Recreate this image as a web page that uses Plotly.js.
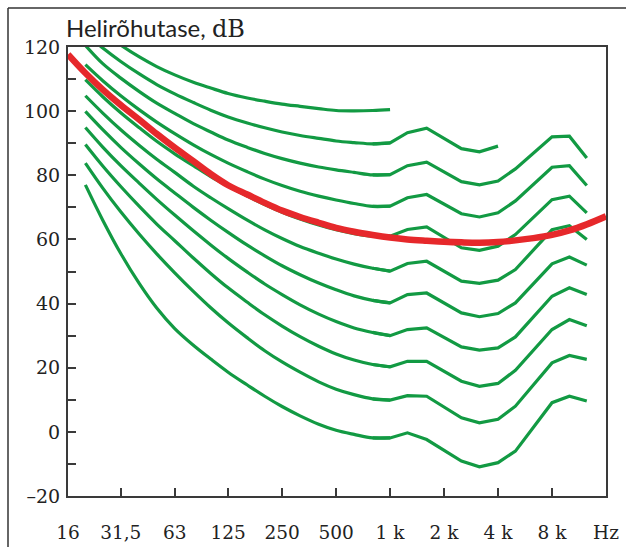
<!DOCTYPE html>
<html>
<head>
<meta charset="utf-8">
<script src="https://cdn.plot.ly/plotly-3.0.1.min.js"></script>
<style>html,body{margin:0;padding:0;background:#fff;}#chart{width:626px;height:547px;}</style>
</head>
<body>
<div id="chart"></div>
<script>
// Frequencies (Hz): smooth low part and polyline high part
const freqLow  = [20, 25, 31.5, 40, 50, 63, 80, 100, 125, 160, 200, 250, 315, 400, 500, 630, 800, 1000];
const freqHigh = [800, 1000, 1250, 1600, 2500, 3150, 4000, 5000, 8000, 10000, 12500];

// Equal-loudness contours (dB), low part
const c0Low   = [77, 66.0, 55.6, 46.2, 38.6, 32.2, 27.0, 22.7, 18.6, 14.6, 11.1, 7.9, 5.0, 2.4, 0.5, -0.8, -1.9, -1.9];
const c10Low  = [83.8, 76.0, 68.6, 61.6, 55.5, 49.6, 43.8, 38.7, 34.0, 29.3, 25.3, 21.8, 18.6, 15.6, 13.3, 11.6, 10.3, 9.9];
const c20Low  = [89.6, 82.9, 76.5, 70.3, 64.8, 59.6, 54.2, 49.4, 44.9, 40.4, 36.5, 33.0, 29.7, 26.7, 24.3, 22.4, 21.0, 20.3];
const c30Low  = [94.9, 88.8, 83.0, 77.5, 72.5, 67.6, 62.7, 58.3, 54.1, 49.8, 46.1, 42.8, 39.6, 36.7, 34.4, 32.4, 31.0, 30.0];
const c40Low  = [99.9, 94.2, 88.7, 83.5, 78.9, 74.5, 70.0, 66.0, 62.2, 58.2, 54.9, 51.8, 49.0, 46.4, 44.3, 42.4, 41.0, 40.2];
const c50Low  = [104.8, 99.4, 94.2, 89.3, 85.0, 80.9, 76.6, 73.0, 69.6, 66.0, 63.0, 60.3, 57.8, 55.7, 53.9, 52.3, 51.0, 50.1];
const c60Low  = [109.8, 104.5, 99.5, 94.8, 90.6, 86.7, 83.0, 79.6, 76.6, 73.5, 70.9, 68.5, 66.4, 64.5, 63.0, 61.8, 61.0, 61.0];
const c70Low  = [114.5, 109.5, 104.8, 100.4, 96.6, 93.0, 89.5, 86.5, 83.8, 81.1, 78.8, 76.8, 75.0, 73.5, 72.3, 71.2, 70.3, 70.4];
const c80Low  = [120.5, 114.8, 110.3, 106.1, 102.5, 99.3, 96.1, 93.5, 91.0, 88.7, 86.8, 85.2, 83.8, 82.6, 81.7, 80.9, 80.1, 80.2];
const c90Low  = [124.2, 119.7, 115.5, 111.6, 108.3, 105.4, 102.7, 100.3, 98.2, 96.3, 94.8, 93.5, 92.4, 91.5, 90.7, 90.2, 89.8, 90.1];
const c100Low = [129, 124.7, 120.6, 116.9, 113.9, 111.3, 109.0, 107.2, 105.5, 104.1, 103.1, 102.2, 101.5, 100.8, 100.2, 100.1, 100.2, 100.5];

// Equal-loudness contours (dB), high part
const c0High  = [-1.9, -1.9, -0.3, -2.4, -9.1, -10.9, -9.6, -6.0, 9.1, 11.1, 9.6];
const c10High = [10.3, 9.9, 11.3, 11.1, 4.4, 2.8, 3.9, 8.0, 21.5, 23.8, 22.6];
const c20High = [21.0, 20.3, 22.0, 22.0, 15.8, 14.2, 15.1, 19.2, 31.9, 35.0, 33.1];
const c30High = [31.0, 30.0, 31.9, 32.4, 26.5, 25.5, 26.2, 29.6, 42.3, 44.9, 42.8];
const c40High = [41.0, 40.2, 42.8, 43.3, 37.1, 35.9, 36.9, 40.2, 52.4, 54.5, 52.0];
const c50High = [51.0, 50.1, 52.5, 53.2, 47.0, 46.3, 47.3, 50.6, 63.0, 64.3, 60.0];
const c60High = [61.0, 61.0, 63.1, 63.9, 57.4, 56.6, 57.9, 61.5, 72.4, 73.5, 68.3];
const c70High = [70.3, 70.4, 73.0, 74.0, 68.0, 67.0, 68.3, 72.0, 82.5, 83.0, 76.8];
const c80High = [80.1, 80.2, 83.0, 84.1, 78.0, 77.0, 78.2, 82.0, 92.0, 92.2, 85.4];
const c90High = [89.8, 90.1, 93.3, 94.7, 88.3, 87.3, 89.1];

// Red reference curve
const refFreq  = [16, 20, 25, 31.5, 40, 50, 63, 80, 100, 125, 160, 200, 250, 315, 400, 500, 630, 800,
                  1000, 1250, 1600, 2000, 2500, 3150, 4000, 5000, 6300, 8000, 10000, 12500, 16000];
const refLevel = [117.7, 111.9, 106.7, 101.9, 97.3, 92.9, 88.6, 84.4, 80.4, 76.9, 74.0, 71.4, 69.0, 67.0, 65.2, 63.6, 62.4, 61.4,
                  60.6, 60.0, 59.6, 59.3, 59.1, 59.0, 59.2, 59.7, 60.4, 61.4, 62.8, 64.7, 67.2];

// Axis ticks
const xTickVals = [16, 31.5, 63, 125, 250, 500, 1000, 2000, 4000, 8000, 16000];
const xTickText = ['16', '31,5', '63', '125', '250', '500', '1 k', '2 k', '4 k', '8 k', 'Hz'];
const yTickVals = [-20, -10, 0, 10, 20, 30, 40, 50, 60, 70, 80, 90, 100, 110, 120];
const yTickText = ['\u201320', '', '0', '', '20', '', '40', '', '60', '', '80', '', '100', '', '120'];

const GREEN = '#129a43';
const RED = '#e6282b';
const lows  = [c0Low, c10Low, c20Low, c30Low, c40Low, c50Low, c60Low, c70Low, c80Low, c90Low, c100Low];
const highs = [c0High, c10High, c20High, c30High, c40High, c50High, c60High, c70High, c80High, c90High];

const traces = [];
lows.forEach((arr) => {
  traces.push({x: freqLow, y: arr, type: 'scatter', mode: 'lines',
    line: {color: GREEN, width: 3.2, shape: 'spline', smoothing: 1}, hoverinfo: 'skip'});
});
highs.forEach((arr) => {
  traces.push({x: freqHigh.slice(0, arr.length), y: arr, type: 'scatter', mode: 'lines',
    line: {color: GREEN, width: 3.2, shape: 'linear'}, hoverinfo: 'skip'});
});
traces.push({x: refFreq, y: refLevel, type: 'scatter', mode: 'lines',
  line: {color: RED, width: 6.5, shape: 'spline', smoothing: 1}, hoverinfo: 'skip'});

const axisCommon = {
  showline: true, linewidth: 2, linecolor: '#3a3a3a', mirror: true,
  ticks: 'inside', ticklen: 8, tickwidth: 2, tickcolor: '#3a3a3a',
  showgrid: false, zeroline: false,
  tickfont: {family: 'DejaVu Serif', size: 19, color: '#222'}
};

const px = (p) => (p - 68) / 538;
const py = (p) => (496 - p) / 449;

const layout = {
  width: 626, height: 547,
  margin: {l: 68, r: 20, t: 47, b: 51},
  paper_bgcolor: '#fff', plot_bgcolor: '#fff',
  showlegend: false,
  xaxis: Object.assign({}, axisCommon, {
    type: 'log', range: [Math.log10(16) - 1e-6, Math.log10(16000) + 1e-6],
    tickmode: 'array', tickvals: xTickVals, ticktext: xTickText, ticklabelstandoff: 19,
    tickfont: {family: 'DejaVu Serif', size: 18.5, color: '#222'}
  }),
  yaxis: Object.assign({}, axisCommon, {
    range: [-20, 120], tickmode: 'array', tickvals: yTickVals, ticktext: yTickText,
    ticklabelstandoff: 2
  }),
  annotations: [{
    xref: 'paper', yref: 'paper', x: 0, y: 1, xanchor: 'left', yanchor: 'bottom',
    xshift: -4, yshift: 2, showarrow: false,
    text: 'Helirõhutase, <span style="font-family:\'DejaVu Serif\'">dB</span>',
    font: {family: 'Lato', size: 24, color: '#222'}
  }],
  shapes: [
    {type: 'line', xref: 'paper', yref: 'paper', x0: px(8), y0: py(8), x1: px(626), y1: py(8),
     line: {color: '#333', width: 1.5}},
    {type: 'line', xref: 'paper', yref: 'paper', x0: px(8), y0: py(8), x1: px(8), y1: py(547),
     line: {color: '#333', width: 1.5}}
  ]
};

Plotly.newPlot('chart', traces, layout, {displayModeBar: false, staticPlot: true});
</script>
</body>
</html>
